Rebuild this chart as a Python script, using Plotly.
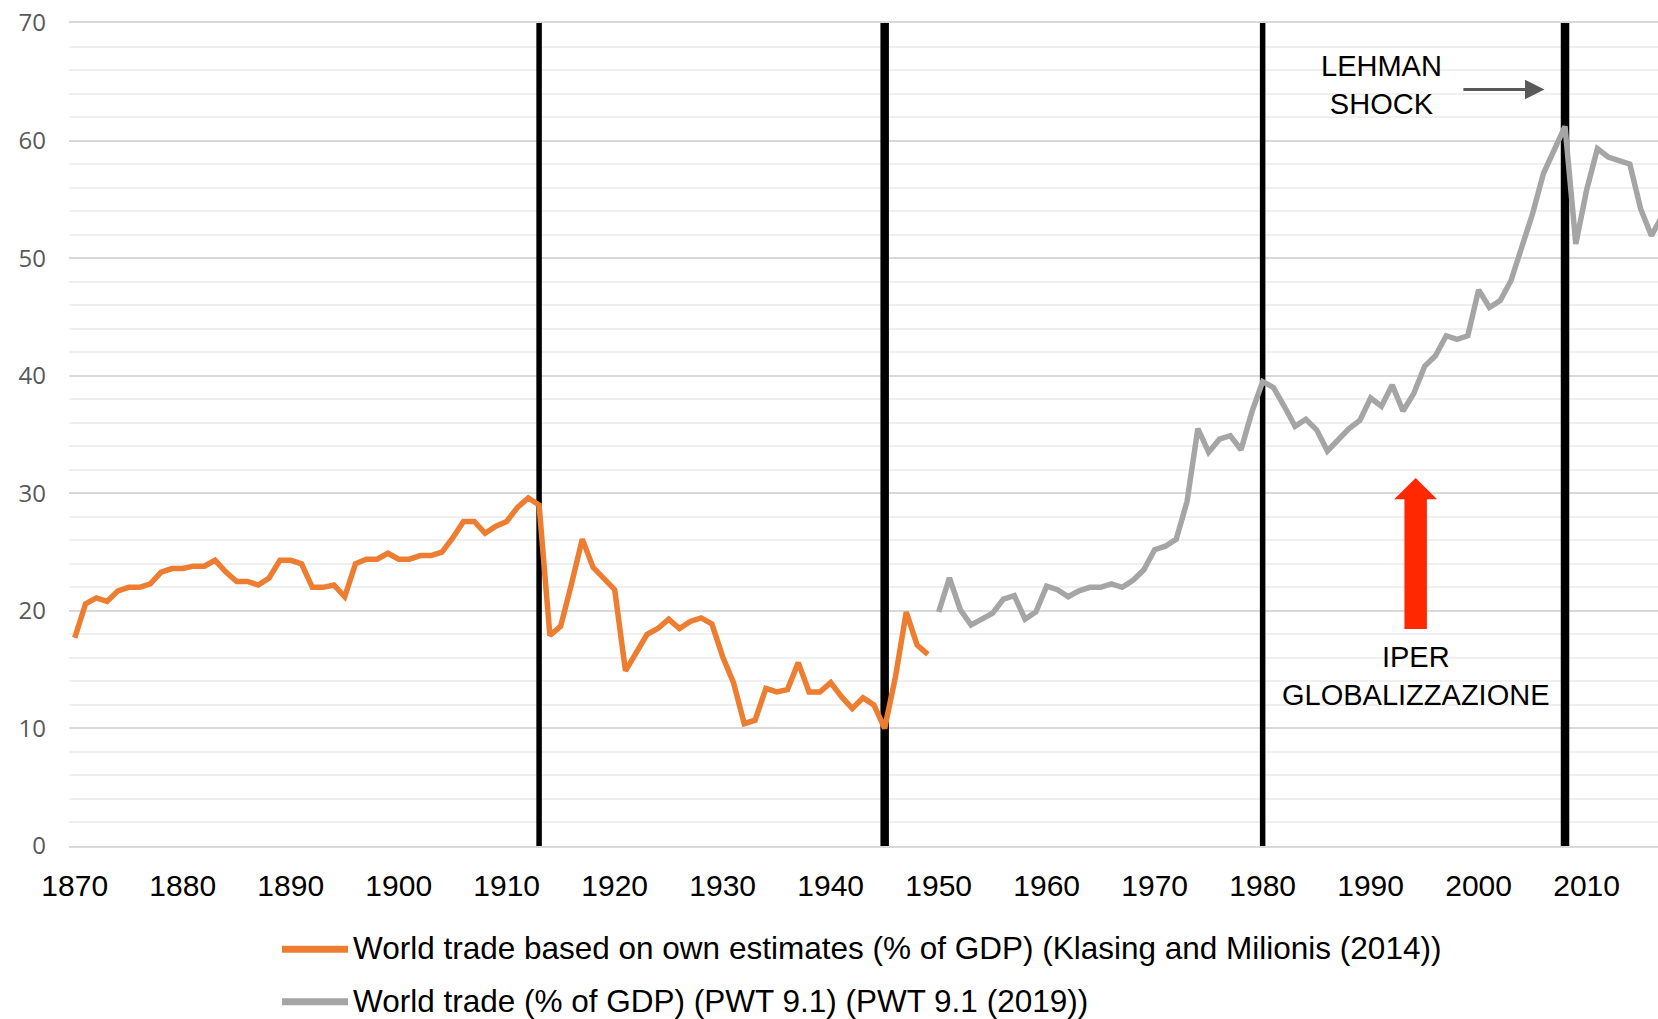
import plotly.graph_objects as go

# ---------------- data ----------------
orange_years = list(range(1870, 1950))
orange_values = [
    17.7, 20.6, 21.1, 20.8, 21.7, 22.0, 22.0, 22.3, 23.3, 23.6,   # 1870-1879
    23.6, 23.8, 23.8, 24.3, 23.3, 22.5, 22.5, 22.2, 22.8, 24.3,   # 1880-1889
    24.3, 24.0, 22.0, 22.0, 22.2, 21.2, 24.0, 24.4, 24.4, 24.9,   # 1890-1899
    24.4, 24.4, 24.7, 24.7, 25.0, 26.2, 27.6, 27.6, 26.6, 27.2,   # 1900-1909
    27.6, 28.8, 29.6, 29.0, 17.9, 18.7, 22.3, 26.1, 23.7, 22.8,   # 1910-1919
    21.8, 14.9, 16.4, 18.0, 18.5, 19.3, 18.5, 19.1, 19.4, 18.9,   # 1920-1929
    16.1, 13.9, 10.4, 10.7, 13.4, 13.1, 13.3, 15.6, 13.1, 13.1,   # 1930-1939
    13.9, 12.7, 11.7, 12.6, 12.0, 10.0, 14.4, 19.9, 17.1, 16.3,   # 1940-1949
]

gray_years = list(range(1950, 2018))
gray_values = [
    19.9, 22.8, 20.1, 18.8, 19.3, 19.8, 21.0, 21.3, 19.3, 19.9,   # 1950-1959
    22.1, 21.8, 21.2, 21.7, 22.0, 22.0, 22.3, 22.0, 22.6, 23.5,   # 1960-1969
    25.2, 25.5, 26.1, 29.3, 35.5, 33.5, 34.6, 34.9, 33.7, 36.9,   # 1970-1979
    39.5, 39.0, 37.4, 35.7, 36.3, 35.4, 33.6, 34.5, 35.5, 36.2,   # 1980-1989
    38.1, 37.4, 39.2, 37.0, 38.5, 40.8, 41.7, 43.4, 43.1, 43.4,   # 1990-1999
    47.3, 45.8, 46.4, 48.1, 50.9, 53.8, 57.2, 59.2, 61.2, 51.2,   # 2000-2009
    55.8, 59.3, 58.6, 58.3, 58.0, 54.2, 51.9, 53.6,               # 2010-2017
]

event_years = [1913, 1945, 1980, 2008]
event_widths = [5.5, 8.5, 5.5, 8.5]

x_tick_labels = [str(y) for y in range(1870, 2011, 10)]
y_tick_values = list(range(0, 71, 10))

orange_name = "World trade based on own estimates (% of GDP) (Klasing and Milionis (2014))"
gray_name = "World trade (% of GDP) (PWT 9.1) (PWT 9.1 (2019))"

ORANGE = "#ED7D31"
GRAY = "#A5A5A5"

# ---------------- layout geometry ----------------
W, H = 1658, 1019
ML, MR, MT, MB = 69, 0, 23, 173
PW, PH = W - ML - MR, H - MT - MB


def paper_x(px):
    return (px - ML) / PW


def paper_y(py):
    return (H - MB - py) / PH


fig = go.Figure()

# vertical event lines (drawn first so data lines sit on top)
for yr, wd in zip(event_years, event_widths):
    fig.add_trace(go.Scatter(
        x=[yr, yr], y=[0, 70], mode="lines",
        line=dict(color="black", width=wd),
        showlegend=False, hoverinfo="skip",
    ))

fig.add_trace(go.Scatter(
    x=orange_years, y=orange_values, mode="lines", name=orange_name,
    line=dict(color=ORANGE, width=5.5), showlegend=False,
))
fig.add_trace(go.Scatter(
    x=gray_years, y=gray_values, mode="lines", name=gray_name,
    line=dict(color=GRAY, width=5.5), showlegend=False,
))

TEXT_FONT = "Liberation Sans, Arial, sans-serif"

annotations = [
    dict(x=1991.0, y=64.7, xref="x", yref="y", text="LEHMAN<br>SHOCK",
         showarrow=False, font=dict(family=TEXT_FONT, size=29, color="black"),
         xanchor="center", yanchor="middle", align="center"),
    dict(x=2006.1, y=64.35, ax=1998.45, ay=64.35, xref="x", yref="y",
         axref="x", ayref="y", text="", showarrow=True,
         arrowhead=2, arrowsize=1.3, arrowwidth=3, arrowcolor="#595959"),
    dict(x=1994.17, y=14.45, xref="x", yref="y", text="IPER<br>GLOBALIZZAZIONE",
         showarrow=False, font=dict(family=TEXT_FONT, size=29, color="black"),
         xanchor="center", yanchor="middle", align="center"),
]

# custom legend
legend_rows = [(orange_name, ORANGE, 949.3), (gray_name, GRAY, 1001.7)]
shapes = []
for name, col, py in legend_rows:
    shapes.append(dict(type="line", xref="paper", yref="paper",
                       x0=paper_x(282), x1=paper_x(348), y0=paper_y(py), y1=paper_y(py),
                       line=dict(color=col, width=7)))
    annotations.append(dict(x=paper_x(351), y=paper_y(py - 1), xref="paper", yref="paper",
                            text=name, showarrow=False, xanchor="left", yanchor="middle",
                            font=dict(family=TEXT_FONT, size=31.5, color="black")))

# red block arrow (IPER GLOBALIZZAZIONE)
cx, tip, base, bottom = 1994.17, 31.3, 29.5, 18.45
hw_head, hw_shaft = 1.99, 1.04
path = (f"M {cx - hw_shaft},{bottom} L {cx - hw_shaft},{base} L {cx - hw_head},{base} "
        f"L {cx},{tip} L {cx + hw_head},{base} L {cx + hw_shaft},{base} "
        f"L {cx + hw_shaft},{bottom} Z")
shapes.append(dict(type="path", xref="x", yref="y", path=path,
                   fillcolor="#FF2800", line=dict(width=0), layer="above"))

fig.update_layout(
    width=W, height=H,
    margin=dict(l=ML, r=MR, t=MT, b=MB, pad=0),
    paper_bgcolor="white", plot_bgcolor="white",
    showlegend=False,
    annotations=annotations,
    shapes=shapes,
)

fig.update_xaxes(
    range=[1869.47, 2016.61],
    tickmode="array", tickvals=[int(t) for t in x_tick_labels], ticktext=x_tick_labels,
    tickfont=dict(family=TEXT_FONT, size=30, color="black"),
    showgrid=False, zeroline=False,
    showline=True, mirror=True, linecolor="#d9d9d9", linewidth=2, ticks="",
    ticklabelstandoff=12,
)
fig.update_yaxes(
    range=[0, 70],
    tickmode="array", tickvals=y_tick_values,
    tickfont=dict(family="Open Sans, sans-serif", size=24, color="#595959"),
    showgrid=True, gridcolor="#d9d9d9", gridwidth=2,
    minor=dict(dtick=2, showgrid=True, gridcolor="#f0f0f0", gridwidth=2),
    zeroline=False, showline=False, ticks="",
    ticklabelstandoff=22,
)

fig.write_html("out.html", config={"displayModeBar": False},
               post_script="document.body.style.margin='0';")
